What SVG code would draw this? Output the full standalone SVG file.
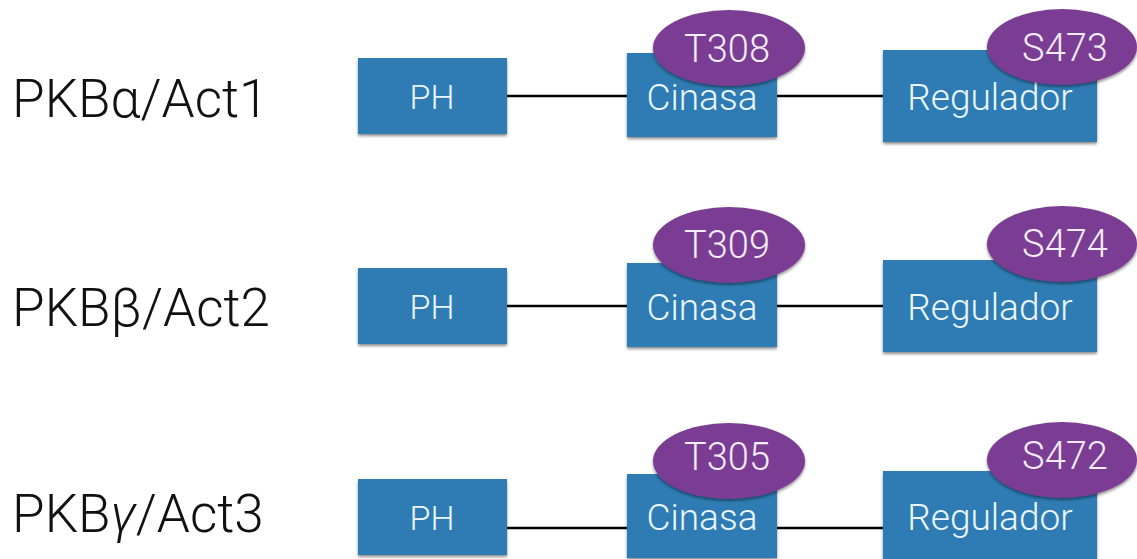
<svg xmlns="http://www.w3.org/2000/svg" width="1137" height="559" viewBox="0 0 1137 559">
  <defs>
    <filter id="shadow" x="-10%" y="-10%" width="120%" height="130%">
      <feGaussianBlur in="SourceAlpha" stdDeviation="1.5"/>
      <feOffset dx="0" dy="2" result="b"/>
      <feComponentTransfer><feFuncA type="linear" slope="0.45"/></feComponentTransfer>
      <feMerge><feMergeNode/><feMergeNode in="SourceGraphic"/></feMerge>
    </filter>
  </defs>
  <style>
    .label { font-family: Roboto, "Liberation Sans", sans-serif; font-weight: 300; font-size: 53px; fill: #111; }
    .box { fill: #2D7CB3; filter: url(#shadow); }
    .site { fill: #7A3C93; filter: url(#shadow); }
    .bt { font-family: Roboto, "Liberation Sans", sans-serif; font-weight: 300; fill: #EAF6FF; text-anchor: middle; }
    .ph { font-size: 34px; }
    .dom { font-size: 37px; }
    .st { font-family: Roboto, "Liberation Sans", sans-serif; font-weight: 300; font-size: 38px; fill: #F4ECF8; text-anchor: middle; }
    .link { stroke: #000; stroke-width: 2.5; fill: none; }
  </style>

  <!-- isoform names -->
  <text class="label" x="12" y="117">PKBα/Act1</text>
  <text class="label" x="12" y="326">PKBβ/Act2</text>
  <text class="label" x="12" y="532">PKB<tspan font-style="italic">γ</tspan>/Act3</text>

  <!-- domain links -->
  <g id="connectors">
    <line class="link" x1="507" y1="96" x2="627" y2="96"/>
    <line class="link" x1="777" y1="96" x2="883" y2="96"/>
    <line class="link" x1="507" y1="306" x2="627" y2="306"/>
    <line class="link" x1="777" y1="306" x2="883" y2="306"/>
    <line class="link" x1="507" y1="528" x2="627" y2="528"/>
    <line class="link" x1="777" y1="528" x2="883" y2="528"/>
  </g>

  <!-- PKB alpha -->
  <g id="ph1">
    <rect class="box" x="358" y="58" width="149" height="76"/>
    <text class="bt ph" x="432" y="109">PH</text>
  </g>
  <g id="kin1">
    <rect class="box" x="627" y="53" width="150" height="84"/>
    <text class="bt dom" x="702" y="110">Cinasa</text>
  </g>
  <g id="reg1">
    <rect class="box" x="883" y="50" width="214" height="92"/>
    <text class="bt dom" x="990" y="110">Regulador</text>
  </g>
  <g id="t308">
    <ellipse class="site" cx="729" cy="48" rx="76" ry="38"/>
    <text class="st" x="727" y="62">T308</text>
  </g>
  <g id="s473">
    <ellipse class="site" cx="1062" cy="47" rx="75" ry="38"/>
    <text class="st" x="1065" y="61">S473</text>
  </g>

  <!-- PKB beta -->
  <g id="ph2">
    <rect class="box" x="358" y="268" width="149" height="76"/>
    <text class="bt ph" x="432" y="319">PH</text>
  </g>
  <g id="kin2">
    <rect class="box" x="627" y="263" width="150" height="84"/>
    <text class="bt dom" x="702" y="320">Cinasa</text>
  </g>
  <g id="reg2">
    <rect class="box" x="883" y="260" width="214" height="92"/>
    <text class="bt dom" x="990" y="320">Regulador</text>
  </g>
  <g id="t309">
    <ellipse class="site" cx="729" cy="245" rx="76" ry="38"/>
    <text class="st" x="727" y="258">T309</text>
  </g>
  <g id="s474">
    <ellipse class="site" cx="1062" cy="244" rx="75" ry="38"/>
    <text class="st" x="1065" y="257">S474</text>
  </g>

  <!-- PKB gamma -->
  <g id="ph3">
    <rect class="box" x="358" y="479" width="149" height="76"/>
    <text class="bt ph" x="432" y="530">PH</text>
  </g>
  <g id="kin3">
    <rect class="box" x="627" y="474" width="150" height="84"/>
    <text class="bt dom" x="702" y="530">Cinasa</text>
  </g>
  <g id="reg3">
    <rect class="box" x="883" y="471" width="214" height="92"/>
    <text class="bt dom" x="990" y="530">Regulador</text>
  </g>
  <g id="t305">
    <ellipse class="site" cx="729" cy="461" rx="76" ry="38"/>
    <text class="st" x="727" y="470">T305</text>
  </g>
  <g id="s472">
    <ellipse class="site" cx="1062" cy="460" rx="75" ry="38"/>
    <text class="st" x="1065" y="469">S472</text>
  </g>
</svg>
